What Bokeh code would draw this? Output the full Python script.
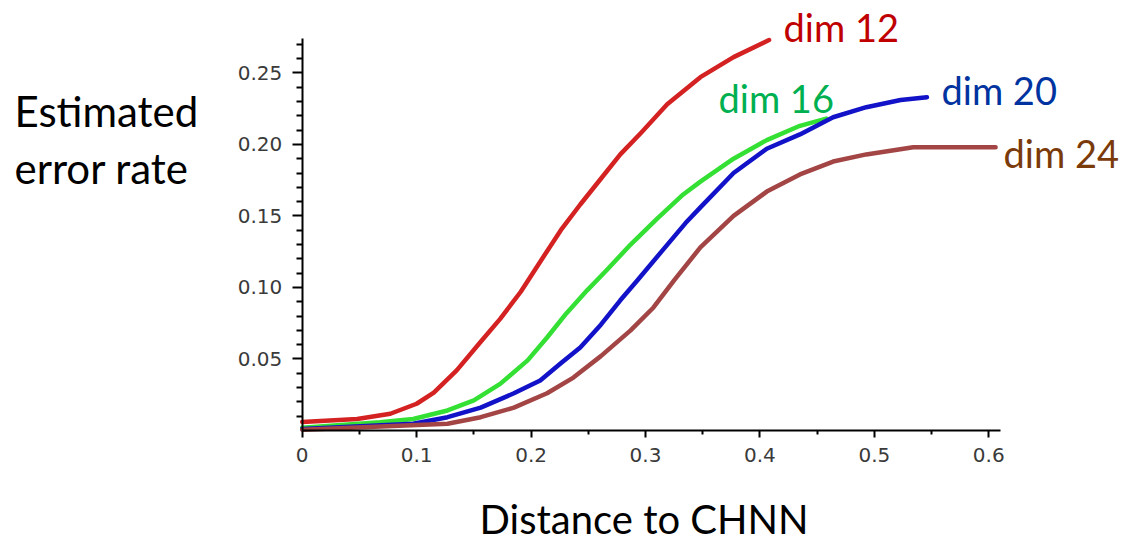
from bokeh.plotting import figure
from bokeh.models import Label, FixedTicker, Range1d
from bokeh.embed import file_html
from bokeh.resources import INLINE

# ---- data ----
dim12_x = [0, 0.048, 0.077, 0.100, 0.115, 0.135, 0.156, 0.173, 0.191, 0.208, 0.226, 0.243,
           0.261, 0.278, 0.296, 0.319, 0.348, 0.377, 0.408]
dim12_y = [0.006, 0.008, 0.0117, 0.0187, 0.0265, 0.042, 0.062, 0.078, 0.097, 0.118, 0.140, 0.158,
           0.176, 0.193, 0.208, 0.228, 0.247, 0.261, 0.273]

dim16_x = [0, 0.068, 0.097, 0.127, 0.150, 0.173, 0.197, 0.214, 0.231, 0.249, 0.266, 0.287,
           0.310, 0.333, 0.348, 0.377, 0.406, 0.435, 0.458]
dim16_y = [0.002, 0.0058, 0.008, 0.014, 0.021, 0.0326, 0.049, 0.065, 0.082, 0.098, 0.112, 0.130,
           0.148, 0.165, 0.174, 0.190, 0.203, 0.213, 0.218]

dim20_x = [0, 0.097, 0.127, 0.156, 0.185, 0.208, 0.226, 0.243, 0.261, 0.278, 0.293, 0.316,
           0.335, 0.348, 0.377, 0.406, 0.435, 0.464, 0.493, 0.523, 0.546]
dim20_y = [0.001, 0.0047, 0.0093, 0.016, 0.026, 0.035, 0.047, 0.058, 0.074, 0.091, 0.105, 0.127,
           0.145, 0.156, 0.180, 0.197, 0.207, 0.219, 0.226, 0.231, 0.233]

dim24_x = [0, 0.127, 0.156, 0.185, 0.214, 0.237, 0.261, 0.287, 0.307, 0.325, 0.348, 0.377,
           0.406, 0.435, 0.464, 0.493, 0.534, 0.606]
dim24_y = [0.0005, 0.0047, 0.0093, 0.016, 0.026, 0.037, 0.052, 0.070, 0.086, 0.105, 0.128, 0.150,
           0.167, 0.179, 0.188, 0.193, 0.198, 0.198]

series_names = ["dim 12", "dim 16", "dim 20", "dim 24"]
line_colors = ["#d42222", "#33e033", "#1212c8", "#a34545"]
label_colors = ["#c00000", "#00b050", "#0033a0", "#7a3a0a"]

x_ticks = [0, 0.1, 0.2, 0.3, 0.4, 0.5, 0.6]
x_tick_labels = ["0", "0.1", "0.2", "0.3", "0.4", "0.5", "0.6"]
x_minor = [0.05, 0.15, 0.25, 0.35, 0.45, 0.55]
y_ticks = [0.05, 0.10, 0.15, 0.20, 0.25]
y_tick_labels = ["0.05", "0.10", "0.15", "0.20", "0.25"]
y_minor = [0.01, 0.02, 0.03, 0.04, 0.06, 0.07, 0.08, 0.09, 0.11, 0.12, 0.13, 0.14,
           0.16, 0.17, 0.18, 0.19, 0.21, 0.22, 0.23, 0.24, 0.26, 0.27]
x_axis_extent = (0, 0.61)
y_axis_extent = (0, 0.274)

# ---- figure: frame spans the whole canvas, axes placed at x=0 / y=0 ----
p = figure(width=1126, height=545, output_backend="svg", toolbar_location=None,
           x_range=Range1d(-0.2637, 0.7204), y_range=Range1d(-0.0804, 0.3006),
           min_border=0)
p.outline_line_color = None
p.grid.visible = False
p.background_fill_color = "white"
p.border_fill_color = "white"

xs = [dim12_x, dim16_x, dim20_x, dim24_x]
ys = [dim12_y, dim16_y, dim20_y, dim24_y]
for x, y, c in zip(xs, ys, line_colors):
    p.line(x, y, line_color=c, line_width=4.5, line_join="round", line_cap="round")

for ax in (p.xaxis[0], p.yaxis[0]):
    ax.fixed_location = 0
    ax.axis_line_color = "black"
    ax.axis_line_width = 2
    ax.major_tick_line_color = "black"
    ax.minor_tick_line_color = "black"
    ax.major_tick_line_width = 2
    ax.minor_tick_line_width = 2
    ax.major_tick_in = 0
    ax.minor_tick_in = 0
    ax.major_label_text_font = "DejaVu Sans"
    ax.major_label_text_font_size = "20px"
    ax.major_label_text_color = "#3a3a3a"

p.xaxis[0].bounds = x_axis_extent
p.xaxis[0].ticker = FixedTicker(ticks=x_ticks, minor_ticks=x_minor)
p.xaxis[0].major_label_overrides = {t: l for t, l in zip(x_ticks, x_tick_labels)}
p.xaxis[0].major_tick_out = 7
p.xaxis[0].minor_tick_out = 4
p.xaxis[0].major_label_standoff = 11

p.yaxis[0].bounds = y_axis_extent
p.yaxis[0].ticker = FixedTicker(ticks=y_ticks, minor_ticks=y_minor)
p.yaxis[0].major_label_overrides = {t: l for t, l in zip(y_ticks, y_tick_labels)}
p.yaxis[0].major_tick_out = 10
p.yaxis[0].minor_tick_out = 6
p.yaxis[0].major_label_standoff = 10

FONT = "Lato"

def add_text(txt, x, y, color, size):
    p.add_layout(Label(x=x, y=y, text=txt, text_font=FONT, text_font_size=size,
                       text_color=color, text_baseline="middle", text_align="left"))

# series labels next to line ends (y = vertical centre of the text)
label_pos = [(0.4207, 0.2824), (0.3638, 0.2321), (0.5587, 0.2383), (0.6129, 0.1943)]
for name, (lx, ly), c in zip(series_names, label_pos, label_colors):
    add_text(name, lx, ly, c, "38px")

# axis titles
add_text("Estimated", -0.2515, 0.2237, "black", "42px")
add_text("error rate", -0.2515, 0.1838, "black", "42px")
add_text("Distance to CHNN", 0.155, -0.0618, "black", "40px")

open("out.html", "w").write(file_html(p, INLINE))
